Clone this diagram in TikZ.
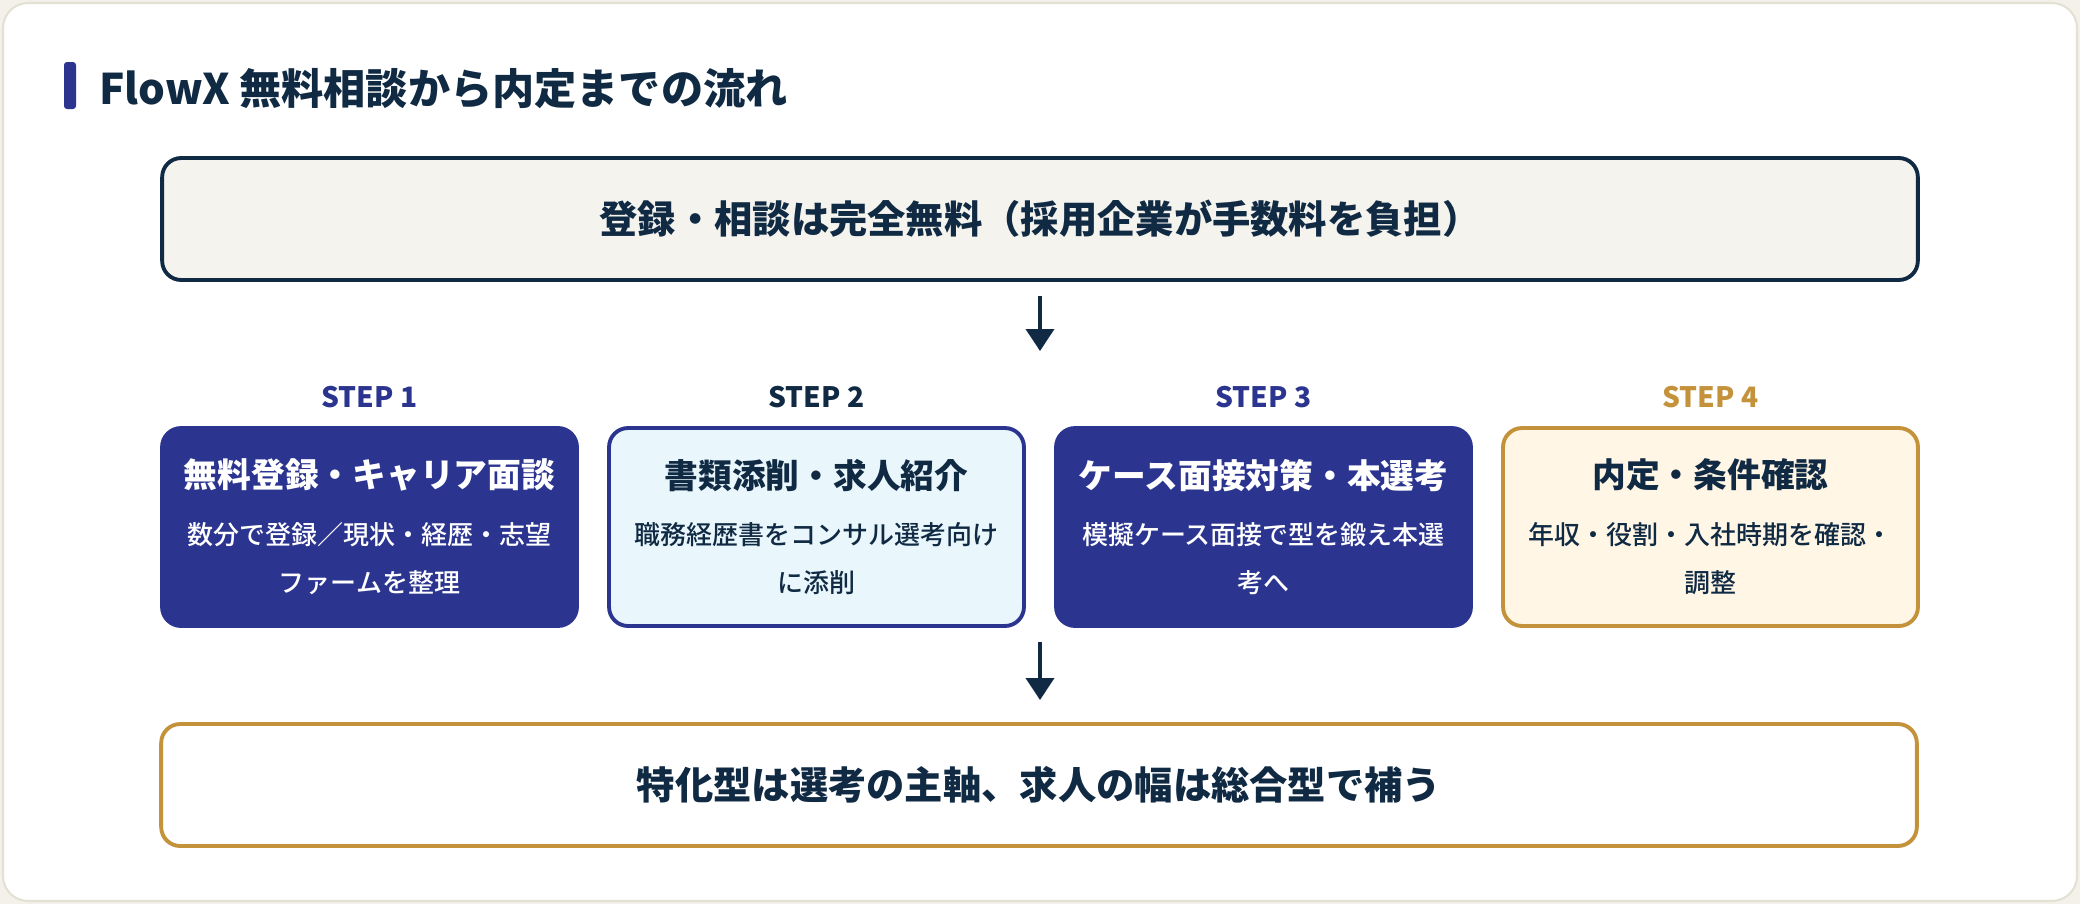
\documentclass[tikz,border=0pt]{standalone}
\usepackage{fontspec}
\setmainfont{Noto Sans CJK JP}
\newfontfamily\medfont{Noto Sans CJK JP Medium}
\usetikzlibrary{arrows.meta}
\definecolor{ink}{HTML}{102A43}
\definecolor{navy}{HTML}{2B3590}
\definecolor{gold}{HTML}{C4923A}
\definecolor{paper}{HTML}{F5F3EE}
\definecolor{cream}{HTML}{FFF6E6}
\definecolor{ice}{HTML}{E9F7FD}
\definecolor{edge}{HTML}{E3E0D4}
\definecolor{page}{HTML}{F3F1EA}

\begin{document}
\begin{tikzpicture}[x=0.02cm,y=-0.02cm,
  box/.style={rounded corners=0.38cm,line width=2.2pt,align=center,inner sep=0},
  wide/.style={box,minimum width=35.12cm,minimum height=2.44cm,text=ink,
    font=\fontsize{21.8}{25}\selectfont\bfseries},
  stepbox/.style={box,minimum width=8.3cm,minimum height=3.96cm,
    font=\fontsize{14.8}{27.3}\selectfont\medfont},
  darkstep/.style={stepbox,fill=navy,draw=navy,text=white},
  bluestep/.style={stepbox,fill=ice,draw=navy,text=ink},
  goldstep/.style={stepbox,fill=cream,draw=gold,text=ink},
  flow/.style={-{Triangle[length=0.44cm,width=0.56cm]},line width=2.2pt,draw=ink,fill=ink}]
\fill[page] (0,0) rectangle (2080,904);
\draw[edge,fill=white,line width=1.2pt,rounded corners=0.5cm] (3,3) rectangle (2077,901);

\fill[navy,rounded corners=0.06cm] (64,62) rectangle (76,109);
\node[anchor=west,inner sep=0,text=ink,font=\fontsize{24}{28}\selectfont\bfseries] (title) at (99,89) {FlowX 無料相談から内定までの流れ};

\node[wide,draw=ink,fill=paper] (top) at (1040,219) {登録・相談は完全無料（採用企業が手数料を負担）};

\foreach \i/\x/\c in {1/369.5/navy,2/816.5/ink,3/1263.5/navy,4/1710.5/gold}
    \node[text=\c,font=\fontsize{16}{19}\selectfont\bfseries] (lbl\i) at (\x,397) {STEP \i};

\node[darkstep] (s1) at (369.5,527) {{\fontsize{19.2}{27.3}\selectfont\normalfont\bfseries 無料登録・キャリア面談}\\[5pt]数分で登録／現状・経歴・志望\\ファームを整理};
\node[bluestep] (s2) at (816.5,527) {{\fontsize{19.2}{27.3}\selectfont\normalfont\bfseries 書類添削・求人紹介}\\[5pt]職務経歴書をコンサル選考向け\\に添削};
\node[darkstep] (s3) at (1263.5,527) {{\fontsize{19.2}{27.3}\selectfont\normalfont\bfseries ケース面接対策・本選考}\\[5pt]模擬ケース面接で型を鍛え本選\\考へ};
\node[goldstep] (s4) at (1710.5,527) {{\fontsize{19.2}{27.3}\selectfont\normalfont\bfseries 内定・条件確認}\\[5pt]年収・役割・入社時期を確認・\\調整};

\node[wide,draw=gold,fill=white] (bottom) at (1039,785) {特化型は選考の主軸、求人の幅は総合型で補う};

\coordinate (a1) at (1040,351);
\draw[flow,shorten <=0.28cm] (top.south) -- (a1);
\coordinate (a2s) at (1040,642);
\coordinate (a2) at (1040,700);
\draw[flow] (a2s) -- (a2);
\end{tikzpicture}
\end{document}
